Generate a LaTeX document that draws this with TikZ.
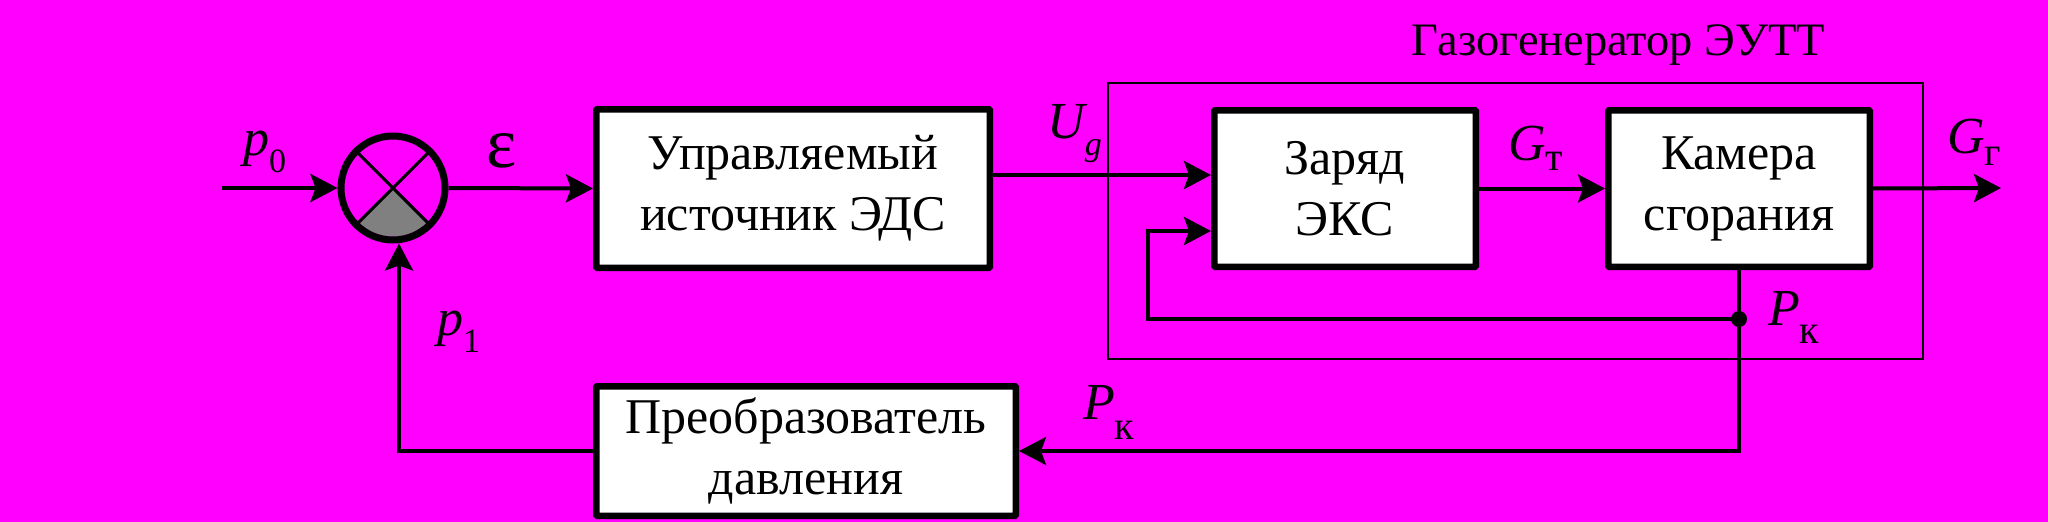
\documentclass[tikz,border=0pt]{standalone}
\usepackage{fontspec}
\setmainfont{Liberation Serif}
\usetikzlibrary{arrows.meta,calc}
\definecolor{bg}{RGB}{255,0,255}
\definecolor{sect}{RGB}{128,128,128}
\newcommand{\blkfont}{\fontsize{50}{61}\selectfont}
\newcommand{\labfont}{\fontsize{52}{60}\selectfont\itshape}
\newcommand{\subfont}{\fontsize{34}{40}\selectfont\upshape}
\newcommand{\cysubfont}{\fontsize{40}{44}\selectfont\upshape}
\newcommand{\lbl}[3]{{\labfont #1}\raisebox{-#3pt}{\subfont #2}}
\newcommand{\cylbl}[3]{{\labfont #1}\raisebox{-#3pt}{\cysubfont #2}}
\begin{document}
\begin{tikzpicture}[x=1pt,y=-1pt,
  blk/.style={draw=black, fill=white, line width=6.5pt, align=center, font=\blkfont, inner sep=0pt, rounded corners=1pt},
  conn/.style={line width=4pt},
  arr/.style={conn, -{Stealth[length=27pt,width=28pt,inset=5pt]}},
  lab/.style={anchor=base west, inner sep=0pt}
]
\fill[bg] (0,0) rectangle (2048,522);
\useasboundingbox (0,0) rectangle (2048,522);

% gas generator frame
\node[draw, line width=1.5pt, minimum width=815pt, minimum height=276pt, inner sep=0pt] (gg) at (1515.5,221) {};
\node[anchor=base, font=\fontsize{46.5}{50}\selectfont, inner sep=0pt] (title) at (1618.5,55) {Газогенератор ЭУТТ};

% blocks
\node[blk, minimum width=393.5pt, minimum height=158.5pt] (box1) at (793,188.5) {Управляемый\\источник ЭДС};
\node[blk, minimum width=261.5pt, minimum height=156.5pt] (box2) at (1345,188.5) {Заряд\\ЭКС};
\node[blk, minimum width=261.5pt, minimum height=156.5pt] (box3) at (1739,188.5) {Камера\\сгорания};
\node[blk, minimum width=419.5pt, minimum height=129.5pt] (box4) at (806,451) {Преобразователь\\давления};

% summing junction
\node[circle, minimum size=111pt, inner sep=0pt, outer sep=0pt] (sum) at (393,188) {};
\fill[sect] (sum.center) -- ++(45:48.5) arc[start angle=45, end angle=135, radius=48.5] -- cycle;
\draw[line width=3pt] (sum.45) -- (sum.225) (sum.135) -- (sum.315);
\draw[line width=7pt] (sum.center) circle[radius=52];

% connectors
\coordinate (in0) at (222,188);
\coordinate (out) at (2001,188);
\coordinate (ugy) at (0,175);
\coordinate (fby) at (0,231);
\coordinate (loopx) at (1148,0);
\coordinate (pk) at (1739,319);
\draw[arr] (in0) -- (sum.west);
\draw[arr] (sum.east) -- (box1.west);
\draw[arr] (box1.east |- ugy) -- (box2.west |- ugy);
\draw[arr] (box2.east) -- (box3.west);
\draw[arr] (box3.east) -- (out);
\draw[arr] (box3.south) |- (box4.east);
\draw[arr] (pk) -- (loopx |- pk) -- (loopx |- fby) -- (box2.west |- fby);
\draw[arr] (box4.west) -| ([xshift=6pt]sum.south);
\fill (pk) circle[radius=8];

% labels
\node[lab] (lp0) at (243,155) {\lbl{p}{0}{17}};
\node[inner sep=0pt, font=\fontsize{72}{72}\selectfont] (leps) at (501.5,150.5) {ε};
\node[lab] (lug) at (1047,138) {\lbl{U}{\itshape g}{17}};
\node[lab] (lgt) at (1508,160) {\cylbl{G}{т}{10}};
\node[lab] (lgg) at (1947,153) {\cylbl{G}{г}{12}};
\node[lab] (lpk1) at (1768,325) {\cylbl{P}{к}{18}};
\node[lab] (lpk2) at (1083,419) {\cylbl{P}{к}{20}};
\node[lab] (lp1) at (437,335) {\lbl{p}{1}{17}};
\end{tikzpicture}
\end{document}
